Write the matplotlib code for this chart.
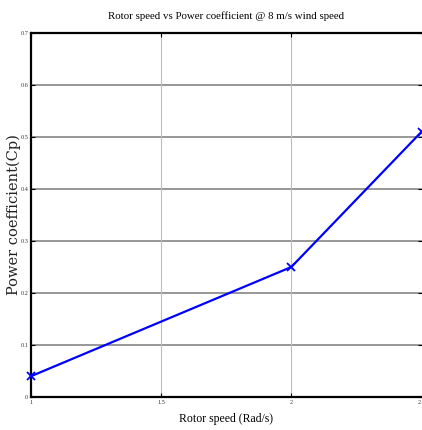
import matplotlib
matplotlib.use("Agg")
import matplotlib.pyplot as plt

rotor_speed = [1.0, 2.0, 2.5]
power_coeff = [0.04, 0.25, 0.51]
x_ticks = [1, 1.5, 2, 2.5]
x_tick_labels = ["1", "1.5", "2", "2.5"]
y_ticks = [0, 0.1, 0.2, 0.3, 0.4, 0.5, 0.6, 0.7]
y_tick_labels = ["0", "0.1", "0.2", "0.3", "0.4", "0.5", "0.6", "0.7"]

plt.rcParams['font.family'] = ['Liberation Serif', 'DejaVu Serif']

W, H = 422, 430
fig = plt.figure(figsize=(W / 100, H / 100), dpi=100)
left, right, top, bottom = 31, 421.5, 33, 397
ax = fig.add_axes([left / W, 1 - bottom / H, (right - left) / W, (bottom - top) / H])

ax.plot(rotor_speed, power_coeff, color='#0000ff', linewidth=1.6,
        marker='x', markersize=6, markeredgewidth=1.3, clip_on=False, zorder=5)

ax.set_xlim(1, 2.5)
ax.set_ylim(0, 0.7)
ax.set_xticks(x_ticks)
ax.set_xticklabels(x_tick_labels)
ax.set_yticks(y_ticks)
ax.set_yticklabels(y_tick_labels)

for y in y_ticks[1:-1]:
    ax.axhline(y, color='#7a7a7a', linewidth=1.1, zorder=1)
for x in x_ticks[1:-1]:
    ax.axvline(x, color='#bdbdbd', linewidth=0.8, zorder=1)

ax.tick_params(axis='both', which='both', direction='in', length=3, width=0.8,
               labelsize=4.5, pad=2, top=True, right=True, colors='black',
               labelcolor='#333333')

for s in ['left', 'bottom', 'top']:
    ax.spines[s].set_linewidth(1.6)
    ax.spines[s].set_color('black')
ax.spines['right'].set_visible(False)

ax.set_title("Rotor speed vs Power coefficient @ 8 m/s wind speed",
             fontsize=7.8, pad=10)
ax.set_xlabel("Rotor speed (Rad/s)", fontsize=8.5, labelpad=6)
ax.set_ylabel("Power coefficient(Cp)", fontsize=10.5,
              family=['DejaVu Serif'], color='#222222')
ax.yaxis.set_label_coords(-0.026, 0.5)

fig.savefig("out.png", dpi=100)
